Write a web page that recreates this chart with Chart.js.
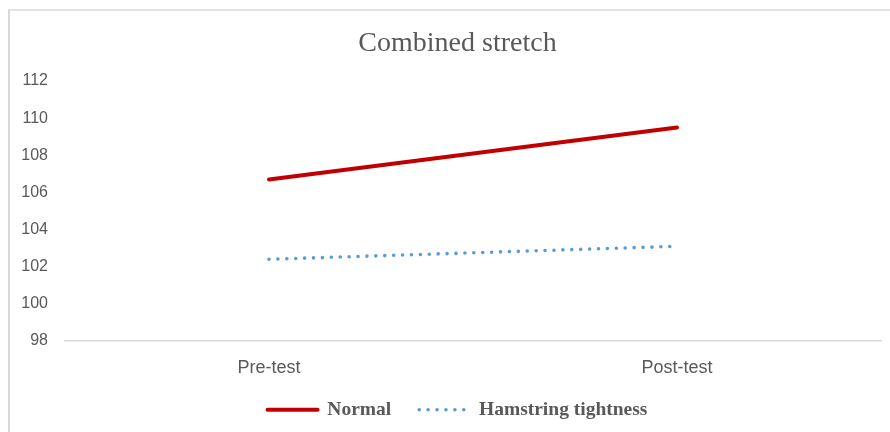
<!DOCTYPE html>
<html>
<head>
<meta charset="utf-8">
<script src="https://cdn.jsdelivr.net/npm/chart.js@4"></script>
<style>
  html, body { margin: 0; padding: 0; background: #ffffff; }
  #wrap { position: relative; width: 890px; height: 432px; overflow: hidden; }
  #frame { position: absolute; left: 8px; top: 9px; width: 1000px; height: 1000px;
           border-left: 2px solid #d9d9d9; border-top: 2px solid #e3e3e3; }
  #c { position: absolute; left: 0; top: 0; }
</style>
</head>
<body>
<div id="wrap">
  <div id="frame"></div>
  <canvas id="c" width="890" height="432"></canvas>
</div>
<script>
const categories = ['Pre-test', 'Post-test'];
const normalValues = [106.7, 109.5];
const hamstringValues = [102.4, 103.1];
const seriesNames = ['Normal', 'Hamstring tightness'];
const chartTitle = 'Combined stretch';
const yMin = 98, yMax = 112, yStep = 2;

const textColor = '#595959';

// Excel centres title and legend over a slightly wider frame than the visible one
const shiftPlugin = {
  id: 'shiftBoxes',
  afterLayout(chart) {
    const dx = 17;
    [chart.titleBlock, chart.legend].forEach(b => {
      if (b) { b.left += dx; b.right += dx; }
    });
    if (chart.legend) { chart.legend.top -= 19; chart.legend.bottom = 432; }
  }
};

new Chart(document.getElementById('c'), {
  type: 'line',
  data: {
    labels: categories,
    datasets: [
      {
        label: seriesNames[0],
        data: normalValues,
        borderColor: '#C00000',
        backgroundColor: '#C00000',
        borderWidth: 4,
        borderCapStyle: 'round',
        pointRadius: 0,
        tension: 0
      },
      {
        label: seriesNames[1],
        data: hamstringValues,
        borderColor: '#5B9BD5',
        backgroundColor: '#5B9BD5',
        borderWidth: 3.6,
        borderDash: [0.01, 8.9],
        borderCapStyle: 'round',
        pointRadius: 0,
        tension: 0
      }
    ]
  },
  options: {
    responsive: false,
    animation: false,
    devicePixelRatio: 1,
    layout: { padding: { left: 0, right: 9, top: 0, bottom: 0 } },
    plugins: {
      title: {
        display: true,
        text: chartTitle,
        color: textColor,
        font: { family: '"Liberation Serif", "Times New Roman", serif', size: 28, weight: 'normal', lineHeight: 1.2 },
        padding: { top: 27, bottom: 20.4 }
      },
      legend: {
        display: true,
        position: 'bottom',
        maxHeight: 41,
        labels: {
          color: textColor,
          font: { family: '"Liberation Serif", "Times New Roman", serif', size: 19.5, weight: 'bold' },
          usePointStyle: true,
          pointStyleWidth: 50,
          boxHeight: 19,
          padding: 28,
          generateLabels(chart) {
            return chart.data.datasets.map((ds, i) => ({
              text: ds.label,
              datasetIndex: i,
              fillStyle: ds.borderColor,
              strokeStyle: ds.borderColor,
              lineWidth: ds.borderWidth,
              lineCap: 'round',
              lineDash: ds.borderDash || [],
              pointStyle: 'line',
              fontColor: textColor,
              hidden: false
            }));
          }
        }
      },
      tooltip: { enabled: false }
    },
    scales: {
      x: {
        offset: true,
        grid: { display: false, drawTicks: false },
        border: { display: true, color: '#d9d9d9', width: 1.5 },
        ticks: {
          color: textColor,
          font: { family: '"Liberation Sans", Arial, sans-serif', size: 18 },
          padding: 16
        },
        afterFit(scale) { scale.height = 50; }
      },
      y: {
        min: yMin,
        max: yMax,
        grid: { display: false, drawTicks: false },
        border: { display: false },
        ticks: {
          stepSize: yStep,
          color: textColor,
          font: { family: '"Liberation Sans", Arial, sans-serif', size: 16 },
          padding: 17
        },
        afterFit(scale) { scale.width = 65; }
      }
    }
  },
  plugins: [shiftPlugin]
});
</script>
</body>
</html>
